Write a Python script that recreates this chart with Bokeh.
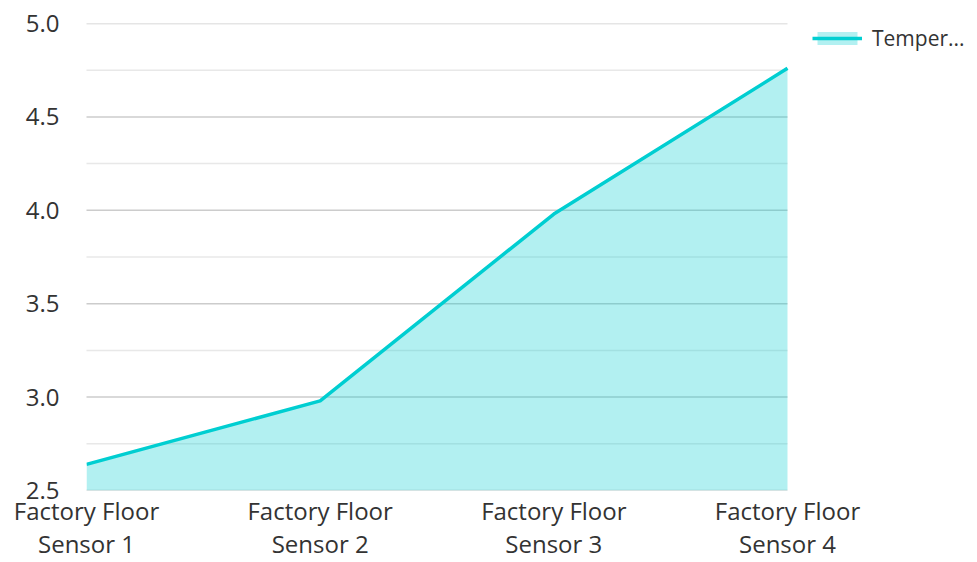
from bokeh.plotting import figure
from bokeh.models import Range1d, FixedTicker, Legend, LegendItem, ColumnDataSource
from bokeh.embed import file_html
from bokeh.resources import INLINE

categories = ["Factory Floor\nSensor 1", "Factory Floor\nSensor 2",
              "Factory Floor\nSensor 3", "Factory Floor\nSensor 4"]
values = [2.64, 2.98, 3.98, 4.76]
series_name = "Temper..."
y_major = [2.5, 3.0, 3.5, 4.0, 4.5, 5.0]
y_minor = [2.75, 3.25, 3.75, 4.25, 4.75]
y_labels = ["2.5", "3.0", "3.5", "4.0", "4.5", "5.0"]

x = list(range(len(categories)))
x_last = x[-1]
src = ColumnDataSource(dict(x=x, y=values, base=[y_major[0]] * len(x)))

FONT = "Open Sans"
# frame spans the full width to the right so that the legend can sit there;
# the data area ends at the last category (about 701 px wide)
plot_px = 701.0
full_px = 977 - 86
p = figure(width=977, height=562, output_backend="svg", toolbar_location=None,
           x_range=Range1d(0, x_last * full_px / plot_px), y_range=Range1d(y_major[0], y_major[-1]),
           min_border_left=86, min_border_right=0, min_border_top=23, min_border_bottom=72)
p.outline_line_color = None
p.background_fill_color = "white"
p.border_fill_color = "white"
p.xgrid.grid_line_color = None
p.ygrid.grid_line_color = None

# gridlines drawn only across the data area
p.segment(x0=[-0.008] * len(y_minor), x1=[x_last] * len(y_minor), y0=y_minor, y1=y_minor,
          line_color="#e8e8e8", line_width=1.5)
p.segment(x0=[-0.008] * len(y_major), x1=[x_last] * len(y_major), y0=y_major, y1=y_major,
          line_color="#cccccc", line_width=1.5)

area = p.varea(x="x", y1="base", y2="y", source=src, fill_color="#00CED1", fill_alpha=0.3)
line = p.line(x="x", y="y", source=src, line_color="#00CED1", line_width=3.5)

p.yaxis.ticker = FixedTicker(ticks=y_major, minor_ticks=y_minor)
p.xaxis.ticker = FixedTicker(ticks=x)
p.xaxis.major_label_overrides = {i: c for i, c in zip(x, categories)}
p.yaxis.major_label_overrides = {v: l for v, l in zip(y_major, y_labels)}

for ax in (p.xaxis[0], p.yaxis[0]):
    ax.axis_line_color = None
    ax.major_tick_line_color = None
    ax.minor_tick_line_color = None
    ax.major_tick_out = 0
    ax.major_tick_in = 0
    ax.minor_tick_out = 0
    ax.minor_tick_in = 0
    ax.major_label_text_font = FONT
    ax.major_label_text_font_size = "24px"
    ax.major_label_text_color = "#333333"
p.yaxis.major_label_standoff = 27
p.xaxis.major_label_standoff = 3
p.xaxis.major_label_text_line_height = 1.0

legend = Legend(items=[LegendItem(label=series_name, renderers=[area, line])],
                location=(726, 438), orientation="vertical",
                glyph_width=50, glyph_height=16, label_standoff=10,
                padding=0, margin=0, border_line_color=None, background_fill_alpha=0,
                label_text_font=FONT, label_text_font_size="21px", label_text_color="#333333")
p.add_layout(legend, "center")

open("out.html", "w").write(file_html(p, INLINE))
